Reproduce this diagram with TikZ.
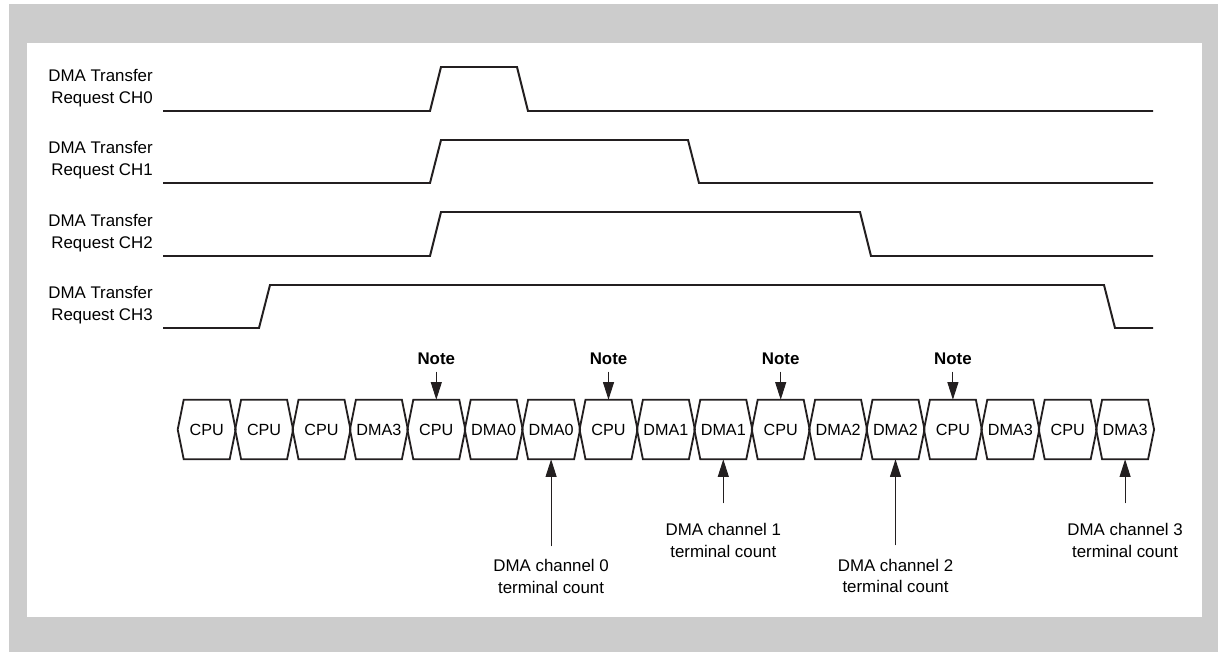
\documentclass[tikz,border=0pt]{standalone}
\usepackage{fontspec}
\setmainfont{Liberation Sans}
\usetikzlibrary{arrows.meta, positioning, calc}
\definecolor{panelgray}{RGB}{204,204,204}
\definecolor{inkblack}{RGB}{35,31,32}

\begin{document}
\begin{tikzpicture}[x=0.025cm, y=-0.025cm,
	font=\fontsize{12}{15.6}\selectfont,
	wave/.style={line width=1.4pt, inkblack},
	siglabel/.style={anchor=east, align=right, inner sep=0pt},
	cell/.style={minimum width=1.435cm, minimum height=1.475cm, inner sep=0pt, font=\fontsize{11.5}{13}\selectfont},
	hexline/.style={line width=1.3pt, inkblack},
	note/.style={font=\fontsize{12}{14}\selectfont\bfseries, inner xsep=0pt, inner ysep=4.6pt},
	tickarrow/.style={line width=0.7pt, inkblack, -{Triangle[length=12.5pt, width=7.8pt]}},
	tclabel/.style={align=center, inner sep=0pt}]

	\useasboundingbox (0,0) rectangle (1218,652);
	\fill[white] (0,0) rectangle (1218,652);
	\fill[panelgray] (9,4) rectangle (1218,652);
	\fill[white] (27,43) rectangle (1202,617);

	% Request labels
	\node[siglabel] (req0) at (153,87.7) {DMA Transfer\\Request CH0};
	\node[siglabel] (req1) at (153,159.7) {DMA Transfer\\Request CH1};
	\node[siglabel] (req2) at (153,232.7) {DMA Transfer\\Request CH2};
	\node[siglabel] (req3) at (153,304.7) {DMA Transfer\\Request CH3};

	% Request waveforms
	\draw[wave] (163,111) -- (430,111) -- (441,67) -- (517,67) -- (528,111) -- (1153,111);
	\draw[wave] (163,183) -- (430,183) -- (441,140) -- (688,140) -- (699,183) -- (1153,183);
	\draw[wave] (163,256) -- (430,256) -- (441,212) -- (860,212) -- (871,256) -- (1153,256);
	\draw[wave] (163,328) -- (259,328) -- (270,285) -- (1104,285) -- (1115,328) -- (1153,328);

	% Bus cycles
	\foreach \lab [count=\i] in {CPU, CPU, CPU, DMA3, CPU, DMA0, DMA0, CPU, DMA1, DMA1, CPU, DMA2, DMA2, CPU, DMA3, CPU, DMA3} {
		\node[cell] (c\i) at ({178+(\i-0.5)*57.4}, 429.5) {\lab};
		\draw[hexline] (c\i.west) -- ($(c\i.north west)+(6,0)$) -- ($(c\i.north east)+(-6,0)$) -- (c\i.east)
			-- ($(c\i.south east)+(-6,0)$) -- ($(c\i.south west)+(6,0)$) -- cycle;
	}

	% Notes
	\foreach \k in {5,8,11,14} {
		\node[note, above=0.7cm of c\k] (n\k) {Note};
		\draw[tickarrow] (n\k) -- (c\k.north);
	}

	% Terminal counts
	\path (c7.south) ++(0,87) coordinate (t0);
	\path (c10.south) ++(0,44) coordinate (t1);
	\path (c13.south) ++(0,86) coordinate (t2);
	\path (c17.south) ++(0,44) coordinate (t3);
	\node[tclabel, below=0.32cm of t0] (tc0) {DMA channel 0\\terminal count};
	\node[tclabel, below=0.5cm of t1] (tc1) {DMA channel 1\\terminal count};
	\node[tclabel, below=0.33cm of t2] (tc2) {DMA channel 2\\terminal count};
	\node[tclabel, below=0.5cm of t3] (tc3) {DMA channel 3\\terminal count};
	\draw[tickarrow] (t0) -- (c7.south);
	\draw[tickarrow] (t1) -- (c10.south);
	\draw[tickarrow] (t2) -- (c13.south);
	\draw[tickarrow] (t3) -- (c17.south);

\end{tikzpicture}
\end{document}
